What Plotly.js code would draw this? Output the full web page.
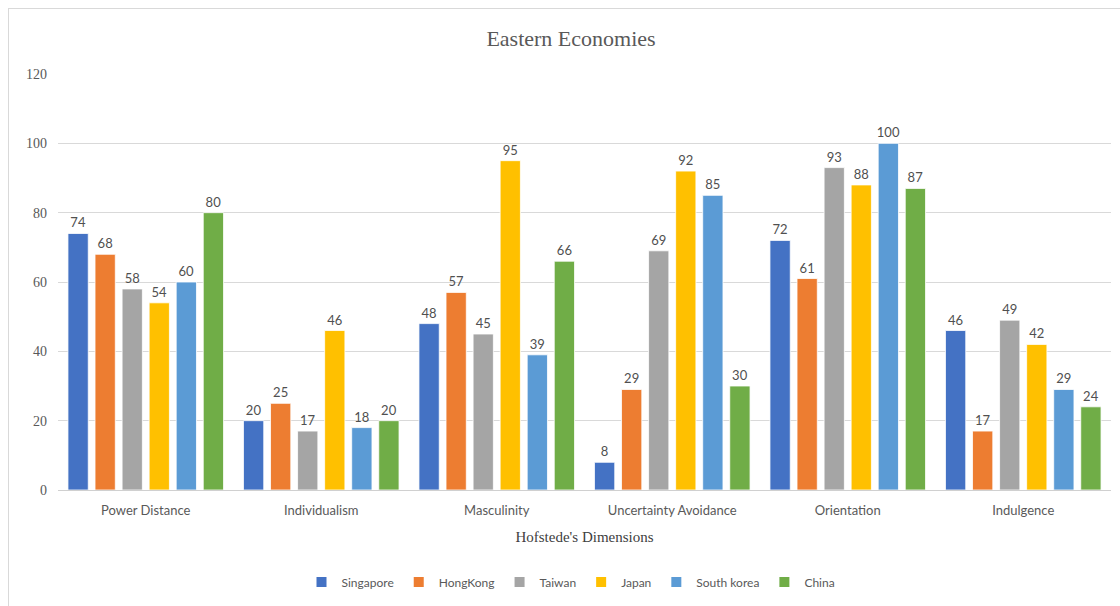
<!DOCTYPE html>
<html>
<head>
<meta charset="utf-8">
<script src="https://cdn.plot.ly/plotly-3.0.1.min.js"></script>
<style>
  html, body { margin: 0; padding: 0; background: #ffffff; }
  #wrap { position: relative; width: 1120px; height: 606px; overflow: hidden; }
  #chart { position: absolute; left: 0; top: 0; width: 1120px; height: 606px; }
  #frame { position: absolute; left: 8px; top: 8px; width: 1120px; height: 620px;
           border-left: 1.5px solid #d9d9d9; border-top: 1.5px solid #d9d9d9; pointer-events: none; }
</style>
</head>
<body>
<div id="wrap">
  <div id="chart"></div>
  <div id="frame"></div>
</div>
<script>
const categories = ["Power Distance", "Individualism", "Masculinity", "Uncertainty Avoidance", "Orientation", "Indulgence"];
const seriesNames = ["Singapore", "HongKong", "Taiwan", "Japan", "South korea", "China"];
const singapore  = [74, 20, 48, 8, 72, 46];
const hongkong   = [68, 25, 57, 29, 61, 17];
const taiwan     = [58, 17, 45, 69, 93, 49];
const japan      = [54, 46, 95, 92, 88, 42];
const southKorea = [60, 18, 39, 85, 100, 29];
const china      = [80, 20, 66, 30, 87, 24];
const yTicks = [0, 20, 40, 60, 80, 100, 120];

const seriesValues = [singapore, hongkong, taiwan, japan, southKorea, china];
const colors = ["#4472C4", "#ED7D31", "#A5A5A5", "#FFC000", "#5B9BD5", "#70AD47"];

const traces = seriesNames.map((name, i) => ({
  type: "bar",
  name: name,
  x: categories,
  y: seriesValues[i],
  text: seriesValues[i].map(String),
  textposition: "outside",
  constraintext: "none",
  cliponaxis: false,
  textfont: { family: "Lato, 'Open Sans', sans-serif", size: 13, color: "#505050" },
  marker: { color: colors[i], line: { color: "#ffffff", width: 0.8 } },
  hoverinfo: "x+y+name"
}));

const layout = {
  width: 1120,
  height: 606,
  autosize: false,
  margin: { l: 58, r: 9, t: 74, b: 116, autoexpand: false },
  paper_bgcolor: "#ffffff",
  plot_bgcolor: "#ffffff",
  barmode: "group",
  bargap: 0.075,
  bargroupgap: 0.25,
  showlegend: true,
  title: {
    text: "Eastern Economies",
    x: 571 / 1120, xref: "container", xanchor: "center",
    y: 1 - 38 / 606, yref: "container", yanchor: "middle",
    font: { family: "'Liberation Serif', 'DejaVu Serif', serif", size: 22, color: "#595959" }
  },
  xaxis: {
    type: "category",
    automargin: false,
    tickangle: 0,
    showgrid: false,
    showline: true,
    linecolor: "#d0d0d0",
    linewidth: 1,
    ticks: "",
    tickfont: { family: "Lato, 'Open Sans', sans-serif", size: 13, color: "#595959" },
    ticklabelstandoff: 8,
    title: {
      text: "Hofstede's Dimensions",
      standoff: 14,
      font: { family: "'Liberation Serif', 'DejaVu Serif', serif", size: 15, color: "#404040" }
    },
    fixedrange: true
  },
  yaxis: {
    automargin: false,
    range: [0, 120],
    tickvals: yTicks,
    ticktext: yTicks.map(String),
    showgrid: true,
    gridcolor: "#d9d9d9",
    gridwidth: 1,
    zeroline: false,
    showline: false,
    ticks: "",
    ticklabelstandoff: 10,
    tickfont: { family: "'Liberation Serif', 'DejaVu Serif', serif", size: 14, color: "#595959" },
    fixedrange: true
  },
  legend: {
    orientation: "h",
    x: (571 - 58) / 1053, xanchor: "center",
    y: -0.221, yanchor: "middle",
    font: { family: "Lato, 'Open Sans', sans-serif", size: 12, color: "#595959" },
    itemsizing: "constant",
    traceorder: "normal"
  }
};

Plotly.newPlot("chart", traces, layout, { displayModeBar: false, staticPlot: true });
</script>
</body>
</html>
